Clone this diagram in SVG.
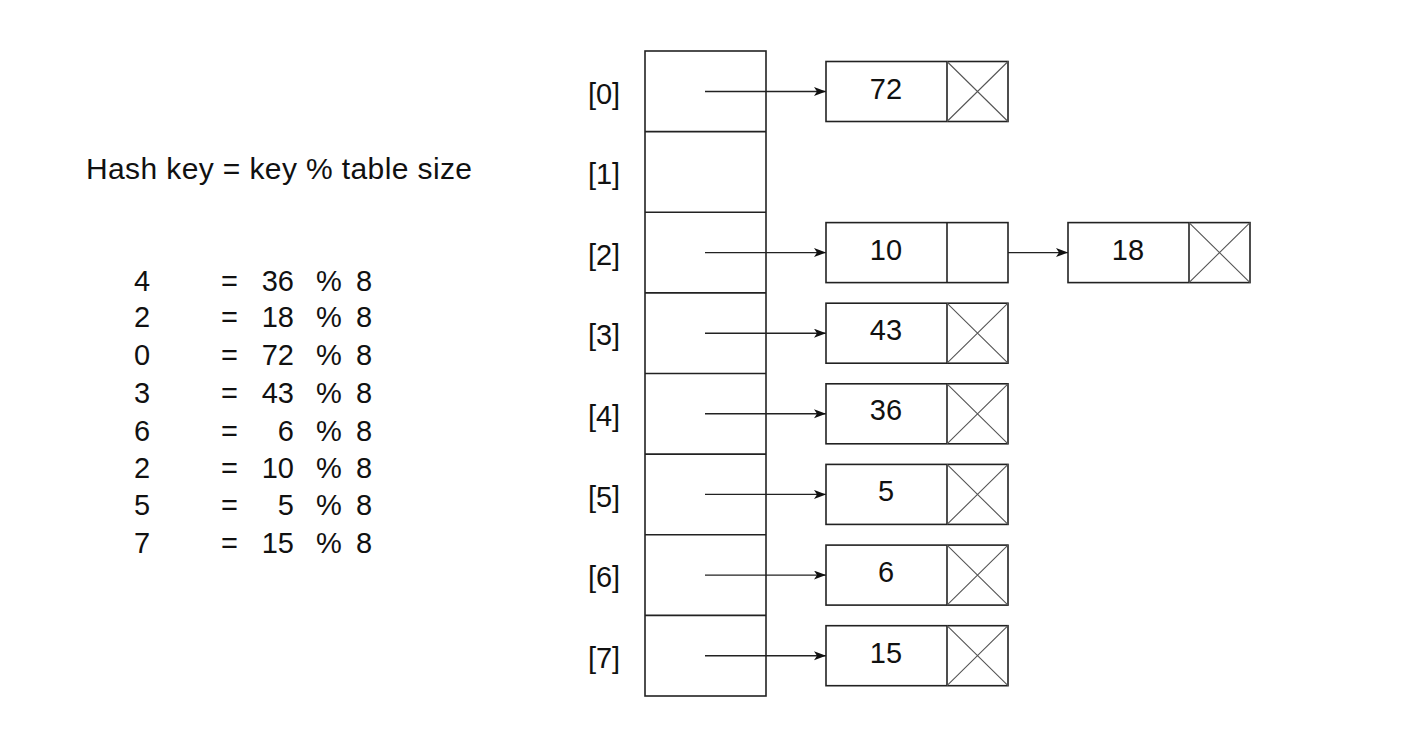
<svg xmlns="http://www.w3.org/2000/svg" width="1418" height="730" viewBox="0 0 1418 730">
<style>
text{font-family:"Liberation Sans",Arial,sans-serif;font-size:29px;fill:#111}
.big{font-size:30px}
.box{fill:#fff;stroke:#222;stroke-width:1.6}
.ln{stroke:#222;stroke-width:1.6;fill:none}
.x{stroke:#555;stroke-width:1.1}
.ptr{stroke:#222;stroke-width:1.4;fill:none;marker-end:url(#ah)}
.m{text-anchor:middle}
.e{text-anchor:end}
</style>
<defs>
<marker id="ah" markerUnits="userSpaceOnUse" markerWidth="14" markerHeight="10" refX="12" refY="4.5" orient="auto">
<path d="M0,0 L12,4.5 L0,9 L3,4.5 z" fill="#111"/>
</marker>
</defs>
<rect width="1418" height="730" fill="#fff"/>
<g id="formula">
<text class="big" x="86" y="179" textLength="386" lengthAdjust="spacing">Hash key = key % table size</text>
</g>
<g id="equations">
<text x="134" y="291">4</text><text x="221" y="291">=</text><text x="294" y="291" class="e">36</text><text x="316" y="291">%</text><text x="356" y="291">8</text>
<text x="134" y="327">2</text><text x="221" y="327">=</text><text x="294" y="327" class="e">18</text><text x="316" y="327">%</text><text x="356" y="327">8</text>
<text x="134" y="365">0</text><text x="221" y="365">=</text><text x="294" y="365" class="e">72</text><text x="316" y="365">%</text><text x="356" y="365">8</text>
<text x="134" y="403">3</text><text x="221" y="403">=</text><text x="294" y="403" class="e">43</text><text x="316" y="403">%</text><text x="356" y="403">8</text>
<text x="134" y="441">6</text><text x="221" y="441">=</text><text x="294" y="441" class="e">6</text><text x="316" y="441">%</text><text x="356" y="441">8</text>
<text x="134" y="478">2</text><text x="221" y="478">=</text><text x="294" y="478" class="e">10</text><text x="316" y="478">%</text><text x="356" y="478">8</text>
<text x="134" y="515">5</text><text x="221" y="515">=</text><text x="294" y="515" class="e">5</text><text x="316" y="515">%</text><text x="356" y="515">8</text>
<text x="134" y="553">7</text><text x="221" y="553">=</text><text x="294" y="553" class="e">15</text><text x="316" y="553">%</text><text x="356" y="553">8</text>
</g>
<g id="table">
<rect class="box" x="645" y="51" width="121" height="645"/>
<path class="ln" d="M645,131.6H766M645,212.3H766M645,292.9H766M645,373.5H766M645,454.1H766M645,534.8H766M645,615.4H766"/>
</g>
<g id="labels">
<text x="604" y="104" class="m">[0]</text>
<text x="604" y="184" class="m">[1]</text>
<text x="604" y="265" class="m">[2]</text>
<text x="604" y="345" class="m">[3]</text>
<text x="604" y="426" class="m">[4]</text>
<text x="604" y="507" class="m">[5]</text>
<text x="604" y="587" class="m">[6]</text>
<text x="604" y="668" class="m">[7]</text>
</g>
<g id="connectors">
<line class="ptr" x1="705" y1="91.5" x2="826" y2="91.5"/>
<line class="ptr" x1="705" y1="252.6" x2="826" y2="252.6"/>
<line class="ptr" x1="987" y1="252.6" x2="1068" y2="252.6"/>
<line class="ptr" x1="705" y1="333.2" x2="826" y2="333.2"/>
<line class="ptr" x1="705" y1="413.8" x2="826" y2="413.8"/>
<line class="ptr" x1="705" y1="494.4" x2="826" y2="494.4"/>
<line class="ptr" x1="705" y1="575.1" x2="826" y2="575.1"/>
<line class="ptr" x1="705" y1="655.7" x2="826" y2="655.7"/>
</g>
<g id="node72">
<rect class="box" x="826" y="61.5" width="182" height="60"/><line class="ln" x1="947" y1="61.5" x2="947" y2="121.5"/>
<path class="x" d="M947,61.5L1008,121.5M1008,61.5L947,121.5"/>
<text x="886" y="99" class="m">72</text>
</g>
<g id="node10">
<rect class="box" x="826" y="222.6" width="182" height="60"/><line class="ln" x1="947" y1="222.6" x2="947" y2="282.6"/>
<text x="886" y="260" class="m">10</text>
</g>
<g id="node18">
<rect class="box" x="1068" y="222.6" width="182" height="60"/><line class="ln" x1="1189" y1="222.6" x2="1189" y2="282.6"/>
<path class="x" d="M1189,222.6L1250,282.6M1250,222.6L1189,282.6"/>
<text x="1128" y="260" class="m">18</text>
</g>
<g id="node43">
<rect class="box" x="826" y="303.2" width="182" height="60"/><line class="ln" x1="947" y1="303.2" x2="947" y2="363.2"/>
<path class="x" d="M947,303.2L1008,363.2M1008,303.2L947,363.2"/>
<text x="886" y="340" class="m">43</text>
</g>
<g id="node36">
<rect class="box" x="826" y="383.8" width="182" height="60"/><line class="ln" x1="947" y1="383.8" x2="947" y2="443.8"/>
<path class="x" d="M947,383.8L1008,443.8M1008,383.8L947,443.8"/>
<text x="886" y="420" class="m">36</text>
</g>
<g id="node5">
<rect class="box" x="826" y="464.4" width="182" height="60"/><line class="ln" x1="947" y1="464.4" x2="947" y2="524.4"/>
<path class="x" d="M947,464.4L1008,524.4M1008,464.4L947,524.4"/>
<text x="886" y="501" class="m">5</text>
</g>
<g id="node6">
<rect class="box" x="826" y="545.1" width="182" height="60"/><line class="ln" x1="947" y1="545.1" x2="947" y2="605.1"/>
<path class="x" d="M947,545.1L1008,605.1M1008,545.1L947,605.1"/>
<text x="886" y="582" class="m">6</text>
</g>
<g id="node15">
<rect class="box" x="826" y="625.7" width="182" height="60"/><line class="ln" x1="947" y1="625.7" x2="947" y2="685.7"/>
<path class="x" d="M947,625.7L1008,685.7M1008,625.7L947,685.7"/>
<text x="886" y="663" class="m">15</text>
</g>
</svg>
